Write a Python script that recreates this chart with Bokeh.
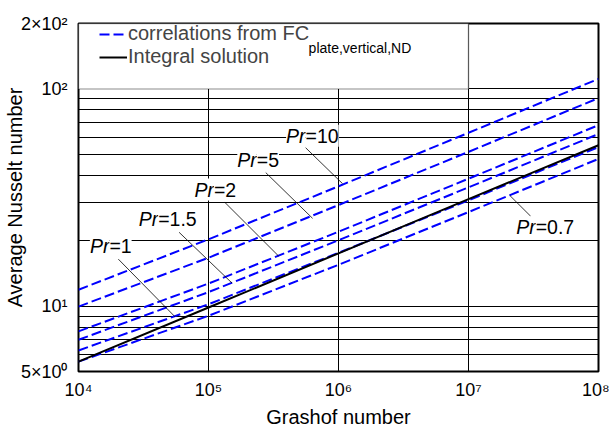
from bokeh.plotting import figure
from bokeh.models import FixedTicker, Legend, LegendItem, BoxAnnotation, Label, ColumnDataSource
from bokeh.core.properties import value
from bokeh.embed import file_html
from bokeh.resources import INLINE

# ---- data ----
grashof = [1e4, 1e5, 1e6, 1e7, 1e8]
pr_values = ["0.7", "1", "1.5", "2", "5", "10"]
nu_pr07 = [5.55, 9.03, 15.5, 27.1, 47.6]
nu_pr1 = [6.25, 10.2, 17.6, 30.7, 54.0]
nu_pr15 = [7.0, 11.6, 20.1, 35.2, 62.0]
nu_pr2 = [7.65, 12.7, 22.0, 38.6, 68.1]
nu_pr5 = [9.95, 16.7, 29.2, 51.3, 90.7]
nu_pr10 = [11.9, 20.3, 35.6, 62.8, 111.2]
nu_integral = [5.55, 9.85, 17.5, 31.1, 55.0]

x_ticks = [1e4, 1e5, 1e6, 1e7, 1e8]
x_tick_labels = ["10⁴", "10⁵", "10⁶", "10⁷", "10⁸"]
y_ticks = [5, 10, 100, 200]
y_tick_labels = ["5×10⁰", "10¹", "10²", "2×10²"]
y_minor = [6, 7, 8, 9, 20, 30, 40, 50, 60, 70, 80, 90]

# annotation anchors (Gr, Nu) for the Pr labels and their leader lines
label_gr = [3.289e7, 1.728e4, 4.10e4, 1.101e5, 2.353e5, 5.585e5]
label_nu = [23.05, 18.87, 25.07, 34.4, 47.2, 60.8]
lead_gr0 = [3.013e7, 2.025e4, 5.94e4, 1.338e5, 2.757e5, 5.585e5]
lead_nu0 = [25.9, 16.45, 21.87, 30.0, 41.17, 53.6]
lead_gr1 = [2.08e7, 5.538e4, 1.514e5, 3.468e5, 6.32e5, 1.073e6]
lead_nu1 = [32.3, 8.92, 12.78, 16.98, 25.35, 36.65]

FONT = "Liberation Sans"

p = figure(width=609, height=430, x_axis_type="log", y_axis_type="log",
           x_range=(1e4, 1e8), y_range=(5, 200),
           output_backend="svg", toolbar_location=None,
           min_border_left=76, min_border_right=11, min_border_top=23, min_border_bottom=57,
           background_fill_color="white", border_fill_color="white")

p.outline_line_color = "black"
p.outline_line_width = 2

# axes
p.xaxis.ticker = FixedTicker(ticks=x_ticks, minor_ticks=[])
p.yaxis.ticker = FixedTicker(ticks=y_ticks, minor_ticks=y_minor)
p.xaxis.major_label_overrides = {t: l for t, l in zip(x_ticks, x_tick_labels)}
p.yaxis.major_label_overrides = {t: l for t, l in zip(y_ticks, y_tick_labels)}
for ax in (p.xaxis, p.yaxis):
    ax.axis_line_color = None
    ax.major_tick_line_color = None
    ax.minor_tick_line_color = None
    ax.major_label_text_font = FONT
    ax.major_label_text_font_size = "18px"
    ax.major_label_text_color = "black"
    ax.axis_label_text_font = FONT
    ax.axis_label_text_font_size = "20px"
    ax.axis_label_text_font_style = "normal"
    ax.axis_label_text_color = "black"
p.xaxis.axis_label = "Grashof number"
p.yaxis.axis_label = "Average Nusselt number"
p.xaxis.major_label_standoff = 2
p.xaxis.axis_label_standoff = 3
p.yaxis.major_label_standoff = 5
p.yaxis.axis_label_standoff = -8

# grid
p.xgrid.ticker = FixedTicker(ticks=x_ticks, minor_ticks=[])
p.ygrid.ticker = FixedTicker(ticks=y_ticks, minor_ticks=y_minor)
p.xgrid.grid_line_color = "black"
p.ygrid.grid_line_color = "black"
p.ygrid.minor_grid_line_color = "black"
p.xgrid.grid_line_width = 1
p.ygrid.grid_line_width = 1
p.ygrid.minor_grid_line_width = 1

# lines
series = [nu_pr07, nu_pr1, nu_pr15, nu_pr2, nu_pr5, nu_pr10]
blue_renderers = []
for s in series:
    r = p.line(grashof, s, line_color="#0000ff", line_width=2, line_dash="10 4")
    blue_renderers.append(r)
r_black = p.line(grashof, nu_integral, line_color="black", line_width=2)

# leader lines
p.segment(x0=lead_gr0, y0=lead_nu0, x1=lead_gr1, y1=lead_nu1, line_color="black", line_width=0.8)

# Pr labels
src = ColumnDataSource(dict(x=label_gr, y=label_nu,
                            pr=["Pr"] * len(pr_values),
                            val=["=" + v for v in pr_values]))
p.text(x="x", y="y", text="pr", source=src, text_font=value(FONT), text_font_style="italic",
       text_font_size="19.5px", text_align="right", text_baseline="middle", text_color="black",
       background_fill_color="white")
p.text(x="x", y="y", text="val", source=src, text_font=value(FONT),
       text_font_size="19.5px", text_align="left", text_baseline="middle", text_color="black",
       background_fill_color="white")

# legend box
box = BoxAnnotation(left=1e4, right=1e7, bottom=100, top=200,
                    fill_color="white", fill_alpha=1, line_color="black", line_width=1.5)
p.add_layout(box)

common = dict(orientation="vertical", padding=0, margin=0, spacing=0,
              glyph_width=28, glyph_height=18, label_height=18, label_standoff=1,
              label_text_font=FONT, label_text_font_size="20px",
              border_line_color=None, background_fill_alpha=0)
legend1 = Legend(items=[LegendItem(label="correlations from FC", renderers=[blue_renderers[0]])],
                 location=(21, 326), **common)
legend2 = Legend(items=[LegendItem(label="Integral solution", renderers=[r_black])],
                 location=(21, 303), **common)
p.add_layout(legend1, "center")
p.add_layout(legend2, "center")

sub = Label(x=5.89e5, y=154.5, text="plate,vertical,ND", text_font=FONT, text_font_size="14px",
            text_baseline="alphabetic", text_align="left", text_color="black")
p.add_layout(sub)

open("out.html", "w").write(file_html(p, INLINE))
